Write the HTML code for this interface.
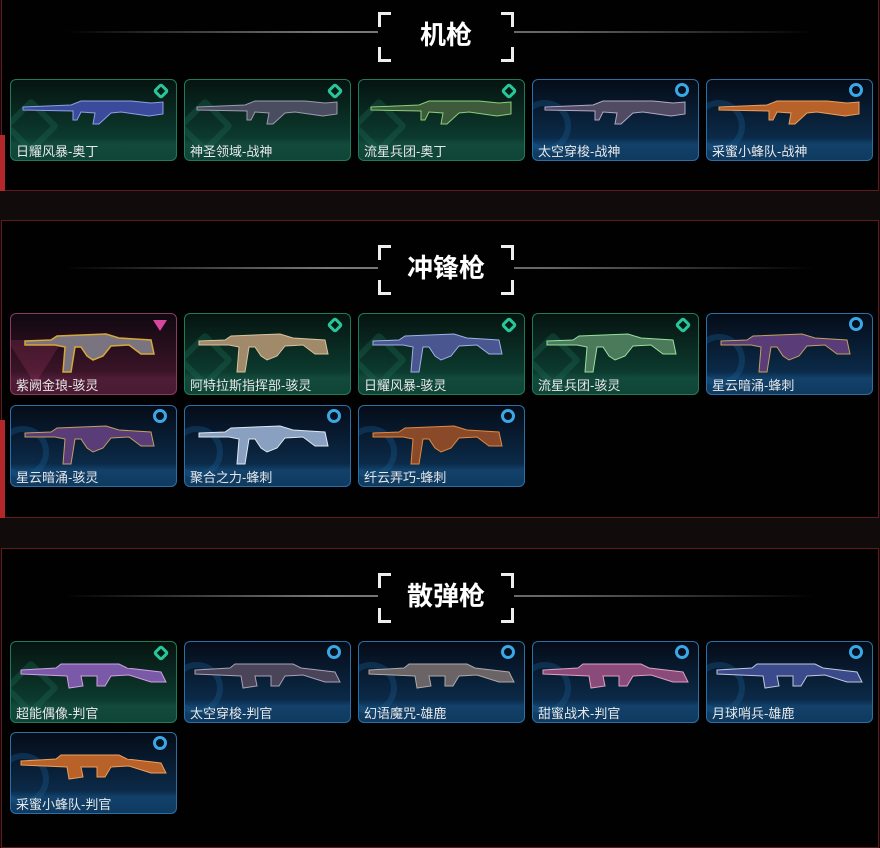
<!DOCTYPE html>
<html><head><meta charset="utf-8">
<style>
*{margin:0;padding:0;box-sizing:border-box}
body{width:880px;height:842px;background:#120b0b;overflow:hidden;position:relative;font-family:"Liberation Sans","Noto Sans CJK SC",sans-serif}
.panel{position:absolute;left:1px;width:878px;background:#010101;border:1px solid #5e1a1c}
.bar{position:absolute;left:0;width:5px;background:#b3262a}
.line{position:absolute;height:2px;left:65px;width:750px;background:linear-gradient(90deg,rgba(90,90,90,0),#7a7a7a 35%,#666 65%,rgba(90,90,90,0))}
.title{position:absolute;left:378px;width:136px;height:46px;color:#fff;font-size:26px;font-weight:bold;text-align:center;line-height:46px;background:#010101;font-family:"Liberation Sans","Noto Sans CJK SC",sans-serif}
.title:before,.title:after{content:"";position:absolute;top:0;width:10px;height:44px;border:3px solid #eee;}
.title:before{left:0;border-right:none;clip-path:polygon(0 0,100% 0,100% 30%,0 30%,0 70%,100% 70%,100% 100%,0 100%)}
.title:after{right:0;border-left:none;clip-path:polygon(0 0,100% 0,100% 30%,0 30%,0 70%,100% 70%,100% 100%,0 100%)}
.c{position:absolute;width:167px;height:82px;border-radius:6px;overflow:hidden}
.g{background:linear-gradient(180deg,#061410 0%,#0c3a2e 72%,#124a3b 80%,#0f4536 100%);border:1.5px solid #1f7a5c}
.b{background:linear-gradient(180deg,#050c18 0%,#0b2a48 72%,#12416a 80%,#0f3a60 100%);border:1.5px solid #2a6fa6}
.p{background:linear-gradient(180deg,#100810 0%,#3a1427 72%,#4e1c36 80%,#4a1a33 100%);border:1.5px solid #8a3a5e}
.c span{position:absolute;left:5px;bottom:0px;color:#e8e8e8;font-size:13px;line-height:17px;white-space:nowrap}
.c svg{position:absolute;left:0;top:0}
.ic{position:absolute;right:9px;top:3px;width:14px;height:14px}
.g .ic{border:3px solid #27c79a;transform:rotate(45deg);border-radius:3px;width:12px;height:12px;top:5px}
.b .ic{border:3px solid #3aa7e6;border-radius:50%}
.p .ic{width:0;height:0;border-left:7px solid transparent;border-right:7px solid transparent;border-top:11px solid #d9459a;top:6px}
.wm{position:absolute;left:-14px;top:20px;width:52px;height:52px;border-radius:50%;opacity:.35}
.g .wm{border:6px solid #1e6a52;border-radius:4px;transform:rotate(45deg);left:0;top:26px;width:40px;height:40px}
.b .wm{border:6px solid #1b5b8f}
.p .wm{border:none;opacity:.2;width:0;height:0;border-left:28px solid transparent;border-right:28px solid transparent;border-top:44px solid #c9407a;border-radius:0;top:26px;left:-4px}
</style></head><body>
<svg width="0" height="0" style="position:absolute"><defs>
<g id="mg"><path d="M12 27 L60 25 L70 21 L120 21 L140 23 L152 22 L152 34 L138 36 L110 32 L100 33 L88 44 L82 44 L84 33 L70 32 L66 40 L62 40 L62 31 L12 30Z"/></g>
<g id="smg"><path d="M14 27 L40 26 L46 22 L95 20 L108 24 L140 26 L143 40 L130 40 L118 31 L100 32 L92 42 L82 46 L76 42 L70 33 L64 33 L60 58 L52 58 L54 33 L44 31 L14 31Z"/></g>
<g id="sg"><path d="M10 28 L45 26 L50 22 L108 22 L116 26 L150 30 L155 40 L140 40 L118 33 L100 34 L94 44 L86 44 L86 34 L70 34 L72 44 L58 46 L56 34 L10 32Z"/></g>
</defs></svg>

<!-- panel 1 -->
<div class="panel" style="top:-2px;height:193px"></div>
<div class="bar" style="top:135px;height:56px"></div>
<div class="line" style="top:31px"></div>
<div class="title" style="top:12px">机枪</div>

<div class="c g" style="left:10px;top:79px"><div class="wm"></div><svg width="167" height="82"><use href="#mg" fill="#3b4a9a" stroke="#8da0e8" stroke-width="1"/></svg><div class="ic"></div><span>日耀风暴-奥丁</span></div>
<div class="c g" style="left:184px;top:79px"><div class="wm"></div><svg width="167" height="82"><use href="#mg" fill="#4a4c60" stroke="#9a9cb0" stroke-width="1"/></svg><div class="ic"></div><span>神圣领域-战神</span></div>
<div class="c g" style="left:358px;top:79px"><div class="wm"></div><svg width="167" height="82"><use href="#mg" fill="#3d5a3a" stroke="#8ad07a" stroke-width="1"/></svg><div class="ic"></div><span>流星兵团-奥丁</span></div>
<div class="c b" style="left:532px;top:79px"><div class="wm"></div><svg width="167" height="82"><use href="#mg" fill="#504a62" stroke="#b0a8c8" stroke-width="1"/></svg><div class="ic"></div><span>太空穿梭-战神</span></div>
<div class="c b" style="left:706px;top:79px"><div class="wm"></div><svg width="167" height="82"><use href="#mg" fill="#b8622a" stroke="#e8a060" stroke-width="1"/></svg><div class="ic"></div><span>采蜜小蜂队-战神</span></div>

<!-- panel 2 -->
<div class="panel" style="top:220px;height:298px"></div>
<div class="bar" style="top:420px;height:98px"></div>
<div class="line" style="top:267px"></div>
<div class="title" style="top:245px">冲锋枪</div>

<div class="c p" style="left:10px;top:313px"><div class="wm"></div><svg width="167" height="82"><use href="#smg" fill="#7a7480" stroke="#d4a83a" stroke-width="1.5"/></svg><div class="ic"></div><span>紫阙金琅-骇灵</span></div>
<div class="c g" style="left:184px;top:313px"><div class="wm"></div><svg width="167" height="82"><use href="#smg" fill="#a08a6a" stroke="#d8c4a0" stroke-width="1"/></svg><div class="ic"></div><span>阿特拉斯指挥部-骇灵</span></div>
<div class="c g" style="left:358px;top:313px"><div class="wm"></div><svg width="167" height="82"><use href="#smg" fill="#4a5690" stroke="#a0b0e8" stroke-width="1"/></svg><div class="ic"></div><span>日耀风暴-骇灵</span></div>
<div class="c g" style="left:532px;top:313px"><div class="wm"></div><svg width="167" height="82"><use href="#smg" fill="#4a7a5a" stroke="#9ae0a0" stroke-width="1"/></svg><div class="ic"></div><span>流星兵团-骇灵</span></div>
<div class="c b" style="left:706px;top:313px"><div class="wm"></div><svg width="167" height="82"><use href="#smg" fill="#5a3c78" stroke="#c4a060" stroke-width="1"/></svg><div class="ic"></div><span>星云暗涌-蜂刺</span></div>
<div class="c b" style="left:10px;top:405px"><div class="wm"></div><svg width="167" height="82"><use href="#smg" fill="#5a3c78" stroke="#c4a060" stroke-width="1"/></svg><div class="ic"></div><span>星云暗涌-骇灵</span></div>
<div class="c b" style="left:184px;top:405px"><div class="wm"></div><svg width="167" height="82"><use href="#smg" fill="#8aa0c0" stroke="#e0e8f0" stroke-width="1"/></svg><div class="ic"></div><span>聚合之力-蜂刺</span></div>
<div class="c b" style="left:358px;top:405px"><div class="wm"></div><svg width="167" height="82"><use href="#smg" fill="#8a4a2a" stroke="#e08a40" stroke-width="1"/></svg><div class="ic"></div><span>纤云弄巧-蜂刺</span></div>

<!-- panel 3 -->
<div class="panel" style="top:548px;height:300px"></div>
<div class="line" style="top:595px"></div>
<div class="title" style="top:573px">散弹枪</div>

<div class="c g" style="left:10px;top:641px"><div class="wm"></div><svg width="167" height="82"><use href="#sg" fill="#7a5aa8" stroke="#d0a0e0" stroke-width="1"/></svg><div class="ic"></div><span>超能偶像-判官</span></div>
<div class="c b" style="left:184px;top:641px"><div class="wm"></div><svg width="167" height="82"><use href="#sg" fill="#4a4458" stroke="#a8a0b8" stroke-width="1"/></svg><div class="ic"></div><span>太空穿梭-判官</span></div>
<div class="c b" style="left:358px;top:641px"><div class="wm"></div><svg width="167" height="82"><use href="#sg" fill="#6a6466" stroke="#b0a8a8" stroke-width="1"/></svg><div class="ic"></div><span>幻语魔咒-雄鹿</span></div>
<div class="c b" style="left:532px;top:641px"><div class="wm"></div><svg width="167" height="82"><use href="#sg" fill="#8a4a7a" stroke="#e0a0c0" stroke-width="1"/></svg><div class="ic"></div><span>甜蜜战术-判官</span></div>
<div class="c b" style="left:706px;top:641px"><div class="wm"></div><svg width="167" height="82"><use href="#sg" fill="#3a4a8a" stroke="#c0c8e0" stroke-width="1"/></svg><div class="ic"></div><span>月球哨兵-雄鹿</span></div>
<div class="c b" style="left:10px;top:732px"><div class="wm"></div><svg width="167" height="82"><use href="#sg" fill="#b8622a" stroke="#e8a060" stroke-width="1"/></svg><div class="ic"></div><span>采蜜小蜂队-判官</span></div>
</body></html>
